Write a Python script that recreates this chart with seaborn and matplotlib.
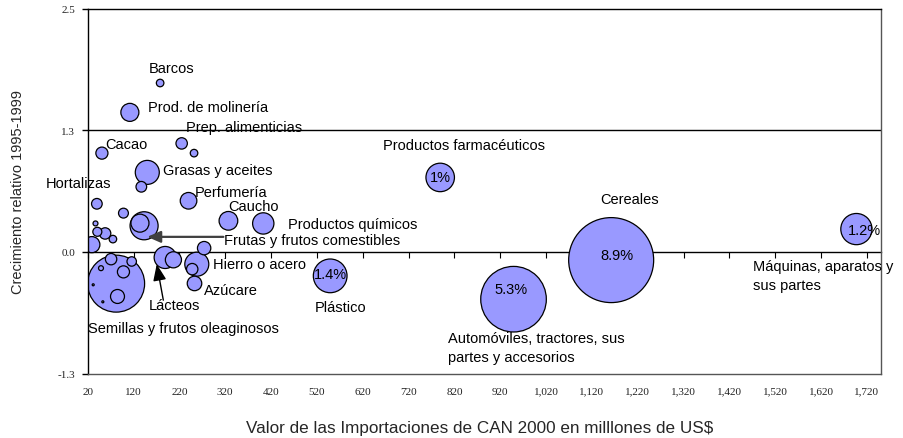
import matplotlib
matplotlib.use("Agg")
import matplotlib.pyplot as plt
import pandas as pd
import seaborn as sns

# ---------------- data ----------------
producto = [
    "Cereales", "Automóviles, tractores, sus partes y accesorios", "Plástico",
    "Productos farmacéuticos", "Máquinas, aparatos y sus partes",
    "Semillas y frutos oleaginosos", "Barcos", "Prod. de molinería",
    "Prep. alimenticias", "Otro 1", "Cacao", "Grasas y aceites", "Hortalizas",
    "Otro 2", "Perfumería", "Otro 3", "Frutas y frutos comestibles", "Otro 4",
    "Caucho", "Productos químicos", "Otro 5", "Otro 6", "Otro 7", "Otro 8",
    "Otro 9", "Otro 10", "Otro 11", "Otro 12", "Otro 13", "Otro 14", "Otro 15",
    "Otro 16", "Lácteos", "Otro 17", "Hierro o acero", "Otro 18", "Otro 19",
    "Azúcar",
]
valor = [1162, 949, 549, 789, 1697, 82, 178, 112, 225, 252, 51, 150, 137, 40,
         240, 98, 143, 134, 327, 403, 37, 41, 58, 75, 29, 71, 116, 49, 98, 32,
         85, 53, 189, 207, 258, 274, 248, 253]
crecimiento = [-0.084, -0.486, -0.246, 0.766, 0.235, -0.326, 1.737, 1.435,
               1.116, 1.016, 1.016, 0.818, 0.670, 0.495, 0.526, 0.399, 0.269,
               0.296, 0.320, 0.293, 0.293, 0.207, 0.190, 0.132, 0.075, -0.074,
               -0.098, -0.167, -0.205, -0.338, -0.458, -0.513, -0.057, -0.081,
               -0.126, 0.039, -0.177, -0.324]
participacion = [8.9, 5.3, 1.4, 1.0, 1.2, 4.0, 0.07, 0.40, 0.16, 0.07, 0.18,
                 0.71, 0.14, 0.14, 0.34, 0.12, 0.97, 0.40, 0.43, 0.56, 0.03,
                 0.10, 0.16, 0.07, 0.32, 0.16, 0.11, 0.03, 0.18, 0.005, 0.24,
                 0.005, 0.60, 0.32, 0.71, 0.22, 0.16, 0.26]

xticks = list(range(20, 1721, 100))
xtick_labels = [f"{v:,}" for v in xticks]
yticks = [-1.25, 0.0, 1.25, 2.5]
ytick_labels = ["-1.3", "0.0", "1.3", "2.5"]

# labels shown inside bubbles (index of bubble, text, offset in points)
pct_labels = [(0, "8.9%", (4, 4)), (1, "5.3%", (-2, 7)), (2, "1.4%", (0, 1)),
              (3, "1%", (0, 0)), (4, "1.2%", (6, -1))]

# category labels: text, x, y, ha
cat_labels = [
    ("Barcos", 203, 1.89, "center"),
    ("Prod. de molinería", 152, 1.49, "left"),
    ("Prep. alimenticias", 234, 1.284, "left"),
    ("Cacao", 58, 1.109, "left"),
    ("Grasas y aceites", 184, 0.845, "left"),
    ("Hortalizas", 71, 0.708, "right"),
    ("Perfumería", 253, 0.612, "left"),
    ("Caucho", 326, 0.468, "left"),
    ("Productos químicos", 456, 0.286, "left"),
    ("Frutas y frutos comestibles", 318, 0.127, "left"),
    ("Hierro o acero", 294, -0.126, "left"),
    ("Azúcare", 274, -0.39, "left"),
    ("Lácteos", 154, -0.547, "left"),
    ("Semillas y frutos oleaginosos", 21, -0.784, "left"),
    ("Productos farmacéuticos", 842, 1.099, "center"),
    ("Plástico", 572, -0.565, "center"),
    ("Cereales", 1202, 0.543, "center"),
    ("Automóviles, tractores, sus\npartes y accesorios", 807, -0.986, "left"),
    ("Máquinas, aparatos y\nsus partes", 1471, -0.246, "left"),
]

# ---------------- figure ----------------
sns.set_style("white")
plt.rcParams["font.family"] = ["Liberation Sans", "DejaVu Sans"]

df = pd.DataFrame({"producto": producto, "valor": valor,
                   "crecimiento": crecimiento, "participacion": participacion})
df = df.sort_values("participacion", ascending=False)

fig = plt.figure(figsize=(9.04, 4.39), dpi=100)
ax = fig.add_axes([87.7 / 904, 1 - 374.5 / 439, (880.7 - 87.7) / 904, (374.5 - 9.8) / 439])

ax.axhline(1.25, color="black", lw=1.0, zorder=0.5)

max_s = 3745.0
sns.scatterplot(data=df, x="valor", y="crecimiento", size="participacion",
                sizes=(0, max_s), size_norm=(0, 8.9), color="#9999FF",
                edgecolor="black", linewidth=0.9, alpha=1, legend=False,
                ax=ax, zorder=2)

ax.set_xlim(20, 1750)
ax.set_ylim(-1.25, 2.5)
ax.set_xlabel("")
ax.set_ylabel("")

ax.set_xticks(xticks)
ax.set_xticklabels(xtick_labels, family="Liberation Serif", fontsize=8, color="#222222")
ax.tick_params(axis="x", length=0, pad=9.5)
ax.set_yticks(yticks)
ax.set_yticklabels(ytick_labels, family="Liberation Serif", fontsize=8, color="#222222")
ax.tick_params(axis="y", direction="out", length=4, width=1, pad=5, left=True, color="black")

for side in ["left", "top"]:
    ax.spines[side].set_color("black")
    ax.spines[side].set_linewidth(1.0)
for side in ["right", "bottom"]:
    ax.spines[side].set_color("#555555")
    ax.spines[side].set_linewidth(1.0)

# x axis line crossing at y = 0
sec = ax.secondary_xaxis(0, transform=ax.transData)
sec.set_xticks(xticks)
sec.tick_params(axis="x", direction="out", length=4, width=0.8, labelbottom=False,
                labeltop=False, color="black")
sec.spines["bottom"].set_linewidth(1.0)
sec.spines["bottom"].set_color("black")

# bubble percentages
for idx, txt, off in pct_labels:
    ax.annotate(txt, (valor[idx], crecimiento[idx]), xytext=off,
                textcoords="offset points", ha="center", va="center",
                fontsize=10.5, color="black", zorder=5)

# category labels
for txt, x, y, ha in cat_labels:
    ax.text(x, y, txt, ha=ha, va="center", fontsize=10.5, color="black",
            linespacing=1.45, zorder=5, clip_on=False)

# arrows
ax.annotate("", xy=(150, 0.155), xytext=(316, 0.155),
            arrowprops=dict(arrowstyle="-|>,head_length=0.8,head_width=0.35",
                            color="#404040", lw=1.6, shrinkA=0, shrinkB=0,
                            mutation_scale=10), zorder=6)
ax.annotate("", xy=(170.6, -0.126), xytext=(185, -0.496),
            arrowprops=dict(arrowstyle="-|>,head_length=1.0,head_width=0.4",
                            color="black", lw=1.0, shrinkA=0, shrinkB=0,
                            mutation_scale=10), zorder=6)

fig.text(18 / 904, 1 - 192 / 439, "Crecimiento relativo 1995-1999", rotation=90,
         ha="center", va="center", fontsize=10.5)
fig.text(480 / 904, 1 - 429 / 439,
         "Valor de las Importaciones de CAN 2000 en milllones de US$",
         ha="center", va="center", fontsize=12.3)

fig.savefig("out.png", dpi=100)
